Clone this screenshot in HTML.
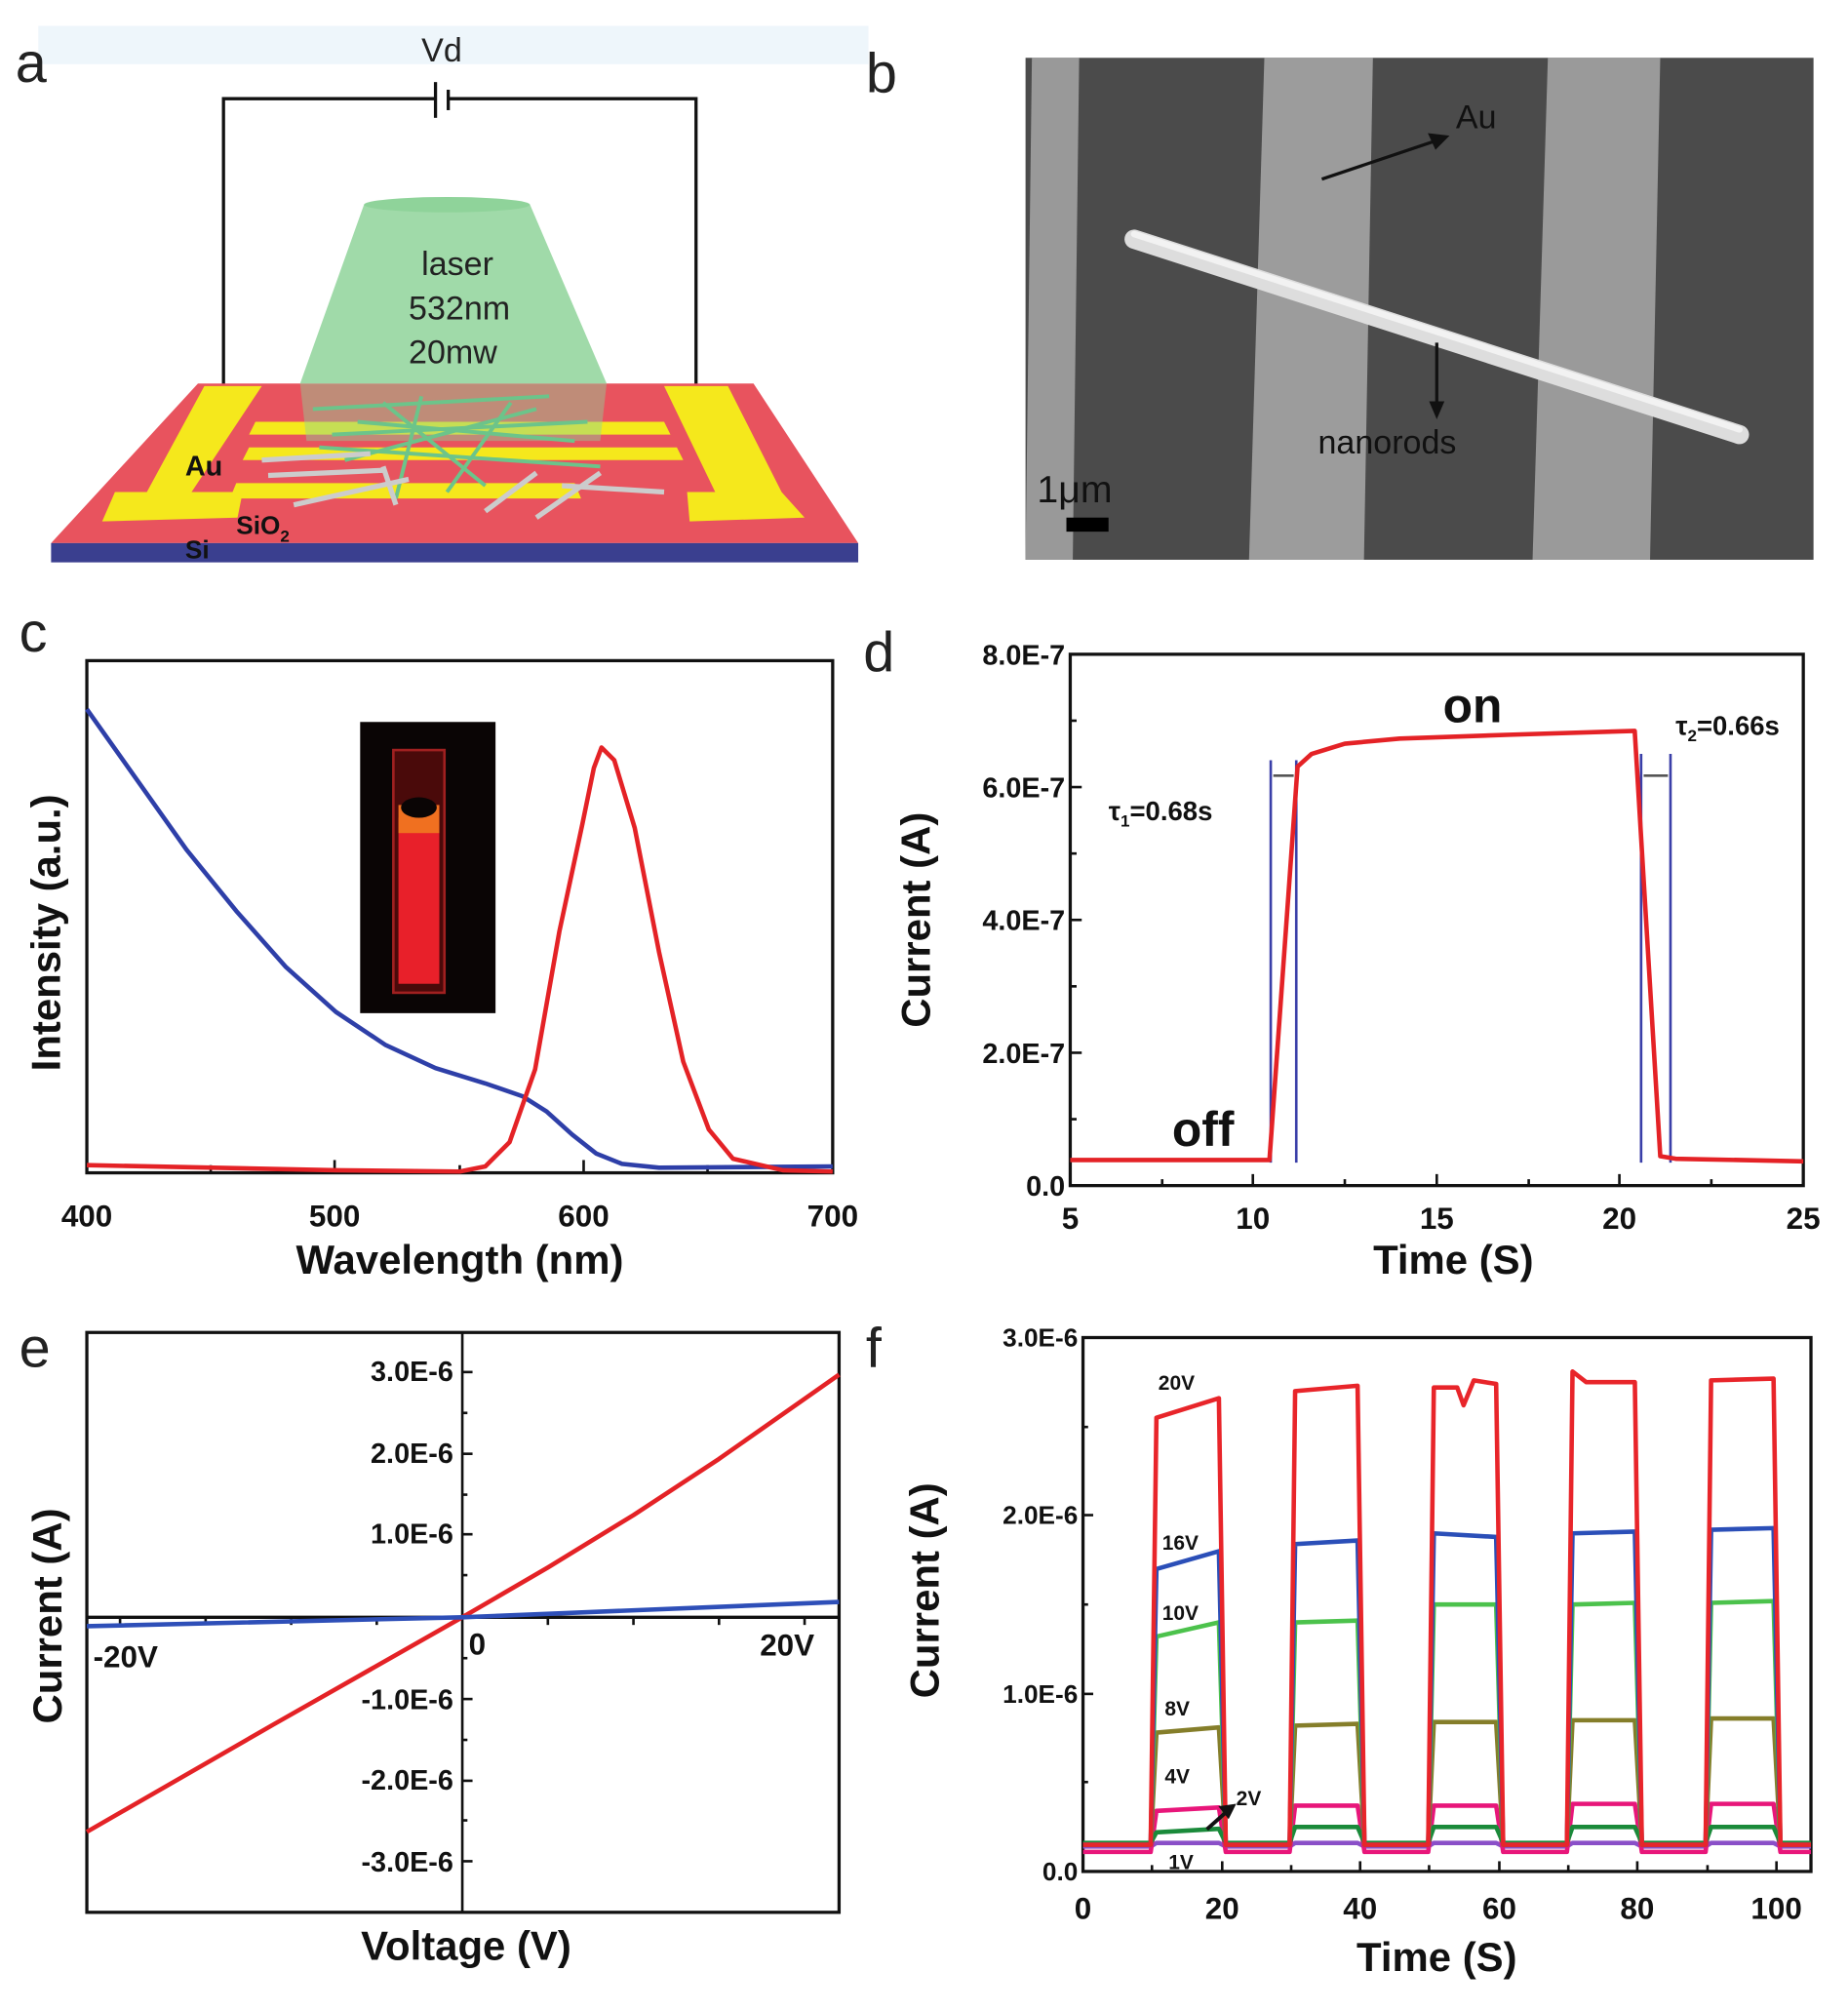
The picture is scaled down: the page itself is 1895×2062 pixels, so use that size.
<!DOCTYPE html>
<html><head><meta charset="utf-8"><style>
html,body{margin:0;padding:0;background:#fff;}
svg{display:block;}
text{font-family:"Liberation Sans",sans-serif;}
</style></head><body>
<svg width="1895" height="2062" viewBox="0 0 1447 1574" xmlns="http://www.w3.org/2000/svg">
<rect width="1447" height="1574" fill="#fff"/>
<!-- Panel a -->
<rect x="30" y="20" width="650" height="30" fill="#eef6fb"/>
<text x="12" y="64" font-size="44" fill="#222">a</text>
<text x="330" y="48" font-size="26" fill="#222">Vd</text>
<polyline points="175,305 175,77 340,77" fill="none" stroke="#111" stroke-width="2.5"/>
<polyline points="352,77 545,77 545,305" fill="none" stroke="#111" stroke-width="2.5"/>
<line x1="341" y1="64" x2="341" y2="92" stroke="#111" stroke-width="2.5"/>
<line x1="351" y1="70" x2="351" y2="86" stroke="#111" stroke-width="2.5"/>
<polygon points="155,300 590,300 672,425 40,425" fill="#e8535e"/>
<polygon points="40,425 672,425 672,440 40,440" fill="#3a3f8f"/>
<polygon points="160,302 205,302 150,385 190,385 186,405 80,408 90,385 115,385" fill="#f5e81c"/>
<polygon points="520,302 570,302 612,385 630,405 540,408 538,385 560,385" fill="#f5e81c"/>
<polygon points="200,330 520,330 525,340 195,340" fill="#f5e81c"/>
<polygon points="195,350 530,350 535,360 190,360" fill="#f5e81c"/>
<polygon points="185,378 450,378 455,390 180,390" fill="#f5e81c"/>
<polygon points="285,160 415,160 475,300 235,300" fill="#8fd39a" opacity="0.85"/>
<ellipse cx="350" cy="160" rx="65" ry="6" fill="#8fd39a"/>
<polygon points="235,300 475,300 470,345 240,345" fill="#8fd39a" opacity="0.45"/>
<g stroke="#6cc48a" stroke-width="3">
<line x1="245" y1="320" x2="430" y2="310"/><line x1="260" y1="340" x2="460" y2="330"/>
<line x1="270" y1="360" x2="420" y2="320"/><line x1="300" y1="315" x2="380" y2="380"/>
<line x1="250" y1="350" x2="470" y2="365"/><line x1="330" y1="310" x2="310" y2="390"/>
<line x1="400" y1="315" x2="350" y2="385"/><line x1="280" y1="330" x2="450" y2="345"/>
</g>
<g stroke="#ccc" stroke-width="4">
<line x1="205" y1="360" x2="290" y2="355"/><line x1="210" y1="372" x2="300" y2="368"/>
<line x1="230" y1="395" x2="320" y2="375"/><line x1="380" y1="400" x2="420" y2="370"/>
<line x1="440" y1="380" x2="520" y2="385"/><line x1="420" y1="405" x2="470" y2="370"/>
<line x1="300" y1="365" x2="310" y2="395"/>
</g>
<text x="145" y="372" font-size="22" font-weight="bold" fill="#111">Au</text>
<text x="185" y="418" font-size="20" font-weight="bold" fill="#111">SiO<tspan font-size="13" dy="6">2</tspan></text>
<text x="145" y="437" font-size="20" font-weight="bold" fill="#111">Si</text>
<text x="330" y="215" font-size="26" fill="#222">laser</text>
<text x="320" y="250" font-size="26" fill="#222">532nm</text>
<text x="320" y="284" font-size="26" fill="#222">20mw</text>
<!-- Panel b -->
<text x="678" y="72" font-size="44" fill="#222">b</text>
<rect x="803" y="45" width="617" height="393" fill="#4b4b4b"/>
<polygon points="808,45 845,45 840,438 803,438" fill="#999"/>
<polygon points="990,45 1075,45 1068,438 978,438" fill="#9c9c9c"/>
<polygon points="1212,45 1300,45 1292,438 1200,438" fill="#9a9a9a"/>
<line x1="888" y1="187" x2="1362" y2="340" stroke="#ddd" stroke-width="15" stroke-linecap="round"/>
<line x1="888" y1="183" x2="1362" y2="336" stroke="#f2f2f2" stroke-width="5" stroke-linecap="round"/>
<line x1="1035" y1="140" x2="1130" y2="108" stroke="#111" stroke-width="2.5"/>
<polygon points="1135,106 1118,104 1124,117" fill="#111"/>
<text x="1140" y="100" font-size="26" fill="#111">Au</text>
<line x1="1125" y1="268" x2="1125" y2="322" stroke="#111" stroke-width="2.5"/>
<polygon points="1125,328 1119,314 1131,314" fill="#111"/>
<text x="1032" y="355" font-size="26" fill="#111">nanorods</text>
<text x="812" y="393" font-size="30" fill="#111">1μm</text>
<rect x="835" y="405" width="33" height="11" fill="#000"/>
<!-- Panel c -->
<text x="15" y="510" font-size="44" fill="#222">c</text>
<rect x="68" y="517" width="584" height="401" fill="none" stroke="#111" stroke-width="2.5"/>
<rect x="282" y="565" width="106" height="228" fill="#0a0505"/>
<rect x="308" y="587" width="40" height="190" fill="#4a0a0a" stroke="#a02020" stroke-width="2"/>
<rect x="312" y="640" width="32" height="130" fill="#e8202a"/>
<rect x="312" y="630" width="32" height="22" fill="#f07020"/>
<ellipse cx="328" cy="632" rx="14" ry="8" fill="#0a0505"/>
<g stroke="#111" stroke-width="2">
<line x1="68" y1="918" x2="68" y2="908"/><line x1="165" y1="918" x2="165" y2="912"/><line x1="262" y1="918" x2="262" y2="908"/><line x1="360" y1="918" x2="360" y2="912"/><line x1="457" y1="918" x2="457" y2="908"/><line x1="554" y1="918" x2="554" y2="912"/>
</g>
<path d="M68,555 L107,610 L146,665 L185,713 L224,757 L263,792 L302,818 L341,836 L380,848 L409,858 L428,870 L448,888 L467,903 L487,911 L516,914 L652,913" fill="none" stroke="#2e3fa8" stroke-width="3.5" stroke-linejoin="round"/>
<path d="M68,912 L263,916 L360,917 L380,913 L399,894 L419,837 L438,729 L456,645 L465,601 L471,585 L481,595 L497,648 L516,745 L535,831 L555,884 L574,907 L613,916 L652,917" fill="none" stroke="#e42226" stroke-width="3.5" stroke-linejoin="round"/>
<g font-size="24" font-weight="bold" fill="#111" text-anchor="middle">
<text x="68" y="960">400</text><text x="262" y="960">500</text><text x="457" y="960">600</text><text x="652" y="960">700</text>
<text x="360" y="997" font-size="32">Wavelength (nm)</text>
</g>
<text transform="translate(47,730) rotate(-90)" font-size="32" font-weight="bold" text-anchor="middle" fill="#111">Intensity (a.u.)</text>
<!-- Panel d -->
<text x="676" y="525" font-size="44" fill="#222">d</text>
<rect x="838" y="512" width="574" height="416" fill="none" stroke="#111" stroke-width="2.5"/>
<g stroke="#111" stroke-width="2">
<line x1="838" y1="928" x2="838" y2="919"/><line x1="910" y1="928" x2="910" y2="923"/><line x1="981" y1="928" x2="981" y2="919"/><line x1="1053" y1="928" x2="1053" y2="923"/><line x1="1125" y1="928" x2="1125" y2="919"/><line x1="1197" y1="928" x2="1197" y2="923"/><line x1="1268" y1="928" x2="1268" y2="919"/><line x1="1340" y1="928" x2="1340" y2="923"/>
<line x1="838" y1="876" x2="843" y2="876"/><line x1="838" y1="824" x2="847" y2="824"/><line x1="838" y1="772" x2="843" y2="772"/><line x1="838" y1="720" x2="847" y2="720"/><line x1="838" y1="668" x2="843" y2="668"/><line x1="838" y1="616" x2="847" y2="616"/><line x1="838" y1="564" x2="843" y2="564"/>
</g>
<g font-size="22" font-weight="bold" fill="#111" text-anchor="end">
<text x="834" y="520">8.0E-7</text><text x="834" y="624">6.0E-7</text><text x="834" y="728">4.0E-7</text><text x="834" y="832">2.0E-7</text><text x="834" y="936">0.0</text>
</g>
<g font-size="24" font-weight="bold" fill="#111" text-anchor="middle">
<text x="838" y="962">5</text><text x="981" y="962">10</text><text x="1125" y="962">15</text><text x="1268" y="962">20</text><text x="1412" y="962">25</text>
<text x="1138" y="997" font-size="32">Time (S)</text>
</g>
<text transform="translate(728,720) rotate(-90)" font-size="32" font-weight="bold" text-anchor="middle" fill="#111">Current (A)</text>
<g stroke="#3a3fa8" stroke-width="2">
<line x1="995" y1="595" x2="995" y2="910"/><line x1="1015" y1="595" x2="1015" y2="910"/>
<line x1="1285" y1="590" x2="1285" y2="910"/><line x1="1308" y1="590" x2="1308" y2="910"/>
</g>
<g stroke="#555" stroke-width="2"><line x1="997" y1="607" x2="1013" y2="607"/><line x1="1287" y1="607" x2="1306" y2="607"/></g>
<path d="M838,908 L994,908 L1016,600 L1027,590 L1053,582 L1096,578 L1182,575 L1280,572 L1300,905 L1312,907 L1412,909" fill="none" stroke="#e42226" stroke-width="3.5" stroke-linejoin="round"/>
<text x="1153" y="565" font-size="38" font-weight="bold" text-anchor="middle" fill="#111">on</text>
<text x="942" y="897" font-size="38" font-weight="bold" text-anchor="middle" fill="#111">off</text>
<text x="868" y="642" font-size="21" font-weight="bold" fill="#111">τ<tspan font-size="13" dy="5">1</tspan><tspan dy="-5">=0.68s</tspan></text>
<text x="1312" y="575" font-size="21" font-weight="bold" fill="#111">τ<tspan font-size="13" dy="5">2</tspan><tspan dy="-5">=0.66s</tspan></text>
<!-- Panel e -->
<text x="15" y="1070" font-size="44" fill="#222">e</text>
<rect x="68" y="1043" width="589" height="454" fill="none" stroke="#111" stroke-width="2.5"/>
<line x1="362" y1="1043" x2="362" y2="1497" stroke="#111" stroke-width="2"/>
<line x1="68" y1="1266" x2="657" y2="1266" stroke="#111" stroke-width="2.5"/>
<g stroke="#111" stroke-width="2">
<line x1="362" y1="1074" x2="370" y2="1074"/><line x1="362" y1="1138" x2="370" y2="1138"/><line x1="362" y1="1201" x2="370" y2="1201"/><line x1="362" y1="1330" x2="370" y2="1330"/><line x1="362" y1="1394" x2="370" y2="1394"/><line x1="362" y1="1457" x2="370" y2="1457"/>
<line x1="362" y1="1106" x2="366" y2="1106"/><line x1="362" y1="1170" x2="366" y2="1170"/><line x1="362" y1="1233" x2="366" y2="1233"/><line x1="362" y1="1298" x2="366" y2="1298"/><line x1="362" y1="1362" x2="366" y2="1362"/><line x1="362" y1="1425" x2="366" y2="1425"/>
<line x1="94" y1="1266" x2="94" y2="1272"/><line x1="161" y1="1266" x2="161" y2="1272"/><line x1="228" y1="1266" x2="228" y2="1272"/><line x1="295" y1="1266" x2="295" y2="1272"/><line x1="429" y1="1266" x2="429" y2="1272"/><line x1="496" y1="1266" x2="496" y2="1272"/><line x1="563" y1="1266" x2="563" y2="1272"/><line x1="630" y1="1266" x2="630" y2="1272"/>
</g>
<g font-size="22" font-weight="bold" fill="#111" text-anchor="end">
<text x="355" y="1081">3.0E-6</text><text x="355" y="1145">2.0E-6</text><text x="355" y="1208">1.0E-6</text>
<text x="355" y="1338">-1.0E-6</text><text x="355" y="1401">-2.0E-6</text><text x="355" y="1465">-3.0E-6</text>
</g>
<g font-size="24" font-weight="bold" fill="#111">
<text x="73" y="1305">-20V</text><text x="367" y="1295">0</text><text x="595" y="1296">20V</text>
</g>
<path d="M68,1434 L214,1350 L362,1266 L429,1227 L496,1186 L563,1142 L657,1076" fill="none" stroke="#e42226" stroke-width="3.5" stroke-linejoin="round"/>
<path d="M68,1273 L362,1266 L657,1254" fill="none" stroke="#2e4fb8" stroke-width="3.5"/>
<text x="365" y="1534" font-size="32" font-weight="bold" text-anchor="middle" fill="#111">Voltage (V)</text>
<text transform="translate(48,1265) rotate(-90)" font-size="32" font-weight="bold" text-anchor="middle" fill="#111">Current (A)</text>
<!-- Panel f -->
<text x="678" y="1070" font-size="44" fill="#222">f</text>
<rect x="848" y="1047" width="570" height="418" fill="none" stroke="#111" stroke-width="2.5"/>
<g stroke="#111" stroke-width="2">
<line x1="848" y1="1465" x2="848" y2="1457"/><line x1="902" y1="1465" x2="902" y2="1460"/><line x1="957" y1="1465" x2="957" y2="1457"/><line x1="1011" y1="1465" x2="1011" y2="1460"/><line x1="1065" y1="1465" x2="1065" y2="1457"/><line x1="1119" y1="1465" x2="1119" y2="1460"/><line x1="1174" y1="1465" x2="1174" y2="1457"/><line x1="1228" y1="1465" x2="1228" y2="1460"/><line x1="1282" y1="1465" x2="1282" y2="1457"/><line x1="1337" y1="1465" x2="1337" y2="1460"/><line x1="1391" y1="1465" x2="1391" y2="1457"/>
<line x1="848" y1="1395" x2="852" y2="1395"/><line x1="848" y1="1326" x2="856" y2="1326"/><line x1="848" y1="1256" x2="852" y2="1256"/><line x1="848" y1="1186" x2="856" y2="1186"/><line x1="848" y1="1117" x2="852" y2="1117"/>
</g>
<g font-size="20" font-weight="bold" fill="#111" text-anchor="end">
<text x="844" y="1054">3.0E-6</text><text x="844" y="1193">2.0E-6</text><text x="844" y="1333">1.0E-6</text><text x="844" y="1472">0.0</text>
</g>
<g font-size="24" font-weight="bold" fill="#111" text-anchor="middle">
<text x="848" y="1502">0</text><text x="957" y="1502">20</text><text x="1065" y="1502">40</text><text x="1174" y="1502">60</text><text x="1282" y="1502">80</text><text x="1391" y="1502">100</text>
<text x="1125" y="1543" font-size="32">Time (S)</text>
</g>
<text transform="translate(735,1245) rotate(-90)" font-size="32" font-weight="bold" text-anchor="middle" fill="#111">Current (A)</text>
<g fill="none" stroke-width="3.5" stroke-linejoin="round">
<path stroke="#8a4fc8" d="M848,1445.5 L901,1445.5 L905.5,1442.7 L954.4,1442.7 L959.8,1445.5 L1009.8,1445.5 L1014.1,1442.7 L1063,1442.7 L1068.4,1445.5 L1118.3,1445.5 L1122.7,1442.7 L1171.5,1442.7 L1177,1445.5 L1226.9,1445.5 L1231.3,1442.7 L1280.1,1442.7 L1285.6,1445.5 L1335.5,1445.5 L1339.8,1442.7 L1388.7,1442.7 L1394.1,1445.5 L1418,1445.5"/>
<path stroke="#e8167a" d="M848,1449.7 L901,1449.7 L905.5,1417.6 L954.4,1414.9 L959.8,1449.7 L1009.8,1449.7 L1014.1,1413.5 L1063,1413.5 L1068.4,1449.7 L1118.3,1449.7 L1122.7,1413.5 L1171.5,1413.5 L1177,1449.7 L1226.9,1449.7 L1231.3,1412.1 L1280.1,1412.1 L1285.6,1449.7 L1335.5,1449.7 L1339.8,1412.1 L1388.7,1412.1 L1394.1,1449.7 L1418,1449.7"/>
<path stroke="#1a8a3a" d="M848,1442.7 L901,1442.7 L905.5,1434.4 L954.4,1431.6 L959.8,1442.7 L1009.8,1442.7 L1014.1,1430.2 L1063,1430.2 L1068.4,1442.7 L1118.3,1442.7 L1122.7,1430.2 L1171.5,1430.2 L1177,1442.7 L1226.9,1442.7 L1231.3,1430.2 L1280.1,1430.2 L1285.6,1442.7 L1335.5,1442.7 L1339.8,1430.2 L1388.7,1430.2 L1394.1,1442.7 L1418,1442.7"/>
<path stroke="#857e2a" d="M848,1444.1 L901,1444.1 L905.5,1356.3 L954.4,1352.2 L959.8,1444.1 L1009.8,1444.1 L1014.1,1350.8 L1063,1349.4 L1068.4,1444.1 L1118.3,1444.1 L1122.7,1348 L1171.5,1348 L1177,1444.1 L1226.9,1444.1 L1231.3,1346.6 L1280.1,1346.6 L1285.6,1444.1 L1335.5,1444.1 L1339.8,1345.2 L1388.7,1345.2 L1394.1,1444.1 L1418,1444.1"/>
<path stroke="#4cc24c" d="M848,1444.1 L901,1444.1 L905.5,1281.1 L954.4,1270 L959.8,1444.1 L1009.8,1444.1 L1014.1,1270 L1063,1268.6 L1068.4,1444.1 L1118.3,1444.1 L1122.7,1256 L1171.5,1256 L1177,1444.1 L1226.9,1444.1 L1231.3,1256 L1280.1,1254.7 L1285.6,1444.1 L1335.5,1444.1 L1339.8,1254.7 L1388.7,1253.3 L1394.1,1444.1 L1418,1444.1"/>
<path stroke="#2b4fb8" d="M848,1444.1 L901,1444.1 L905.5,1228.2 L954.4,1214.3 L959.8,1444.1 L1009.8,1444.1 L1014.1,1208.7 L1063,1205.9 L1068.4,1444.1 L1118.3,1444.1 L1122.7,1200.3 L1171.5,1203.1 L1177,1444.1 L1226.9,1444.1 L1231.3,1200.3 L1280.1,1198.9 L1285.6,1444.1 L1335.5,1444.1 L1339.8,1197.5 L1388.7,1196.2 L1394.1,1444.1 L1418,1444.1"/>
<path stroke="#e8252a" d="M848,1444.1 L901,1444.1 L905.5,1109.8 L954.4,1094.5 L959.8,1444.1 L1009.8,1444.1 L1014.1,1088.9 L1063,1084.7 L1068.4,1444.1 L1118.3,1444.1 L1122.7,1086.1 L1141,1086.1 L1146,1100 L1154,1080.5 L1171.5,1083.3 L1177,1444.1 L1226.9,1444.1 L1231.3,1073.6 L1242,1081.9 L1280.1,1081.9 L1285.6,1444.1 L1335.5,1444.1 L1339.8,1080.5 L1388.7,1079.1 L1394.1,1444.1 L1418,1444.1"/>
</g>
<g font-size="16" font-weight="bold" fill="#111">
<text x="907" y="1088">20V</text><text x="910" y="1213">16V</text><text x="910" y="1268">10V</text>
<text x="912" y="1343">8V</text><text x="912" y="1396">4V</text><text x="968" y="1413">2V</text><text x="915" y="1463">1V</text>
</g>
<line x1="945" y1="1432" x2="963" y2="1416" stroke="#111" stroke-width="3"/>
<polygon points="968,1412 954,1414 962,1424" fill="#111"/>
</svg>
</body></html>
